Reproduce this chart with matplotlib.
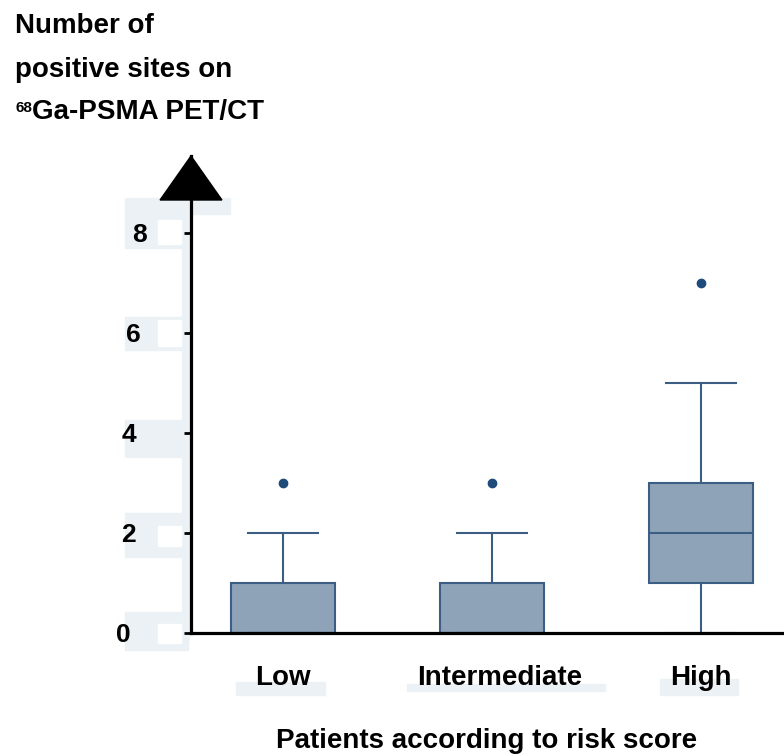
import matplotlib
matplotlib.use("Agg")
import matplotlib.pyplot as plt
from matplotlib.patches import Polygon, Rectangle
from matplotlib.transforms import ScaledTranslation

plt.rcParams['font.family'] = ['Liberation Sans', 'DejaVu Sans']

# summary values
groups = ["Low", "Intermediate", "High"]
q1 = [0, 0, 1]
med = [0, 0, 2]
q3 = [1, 1, 3]
wlo = [0, 0, 0]
whi = [2, 2, 5]
outliers = [[3], [3], [7]]
yticks = [0, 2, 4, 6, 8]

fill_c = "#8fa3b8"
edge_c = "#3d5e84"
dot_c = "#1f4b7a"
patch_c = "#ebf1f4"

stats = []
for i, g in enumerate(groups):
    stats.append(dict(label=g, q1=q1[i], med=med[i], q3=q3[i],
                      whislo=wlo[i], whishi=whi[i], fliers=outliers[i]))

W, H = 784, 756
fig = plt.figure(figsize=(W / 100, H / 100), dpi=100)

# faint label backgrounds seen in the original (pixel boxes -> figure fraction)
def bg(x0, y0, x1, y1, color=patch_c):
    fig.patches.append(Rectangle((x0 / W, 1 - y1 / H), (x1 - x0) / W, (y1 - y0) / H,
                                 transform=fig.transFigure, color=color, zorder=-5))

bg(236, 682, 325, 695)
bg(407, 684, 605, 691)
bg(660, 679, 738, 695)
bg(125, 198, 230, 214)
bg(125, 214, 183, 248)
bg(125, 317, 183, 350)
bg(125, 420, 183, 457)
bg(125, 513, 183, 557)
bg(125, 612, 188, 650)
bg(182, 214, 189, 640)
for y0, y1 in [(220, 244), (320, 346), (526, 546), (624, 643)]:
    bg(158, y0, 181, y1, "white")

ax = fig.add_axes([191 / W, 1 - 633 / H, 1 - 191 / W, (633 - 156) / H])
ax.patch.set_alpha(0)

ax.bxp(stats, positions=range(len(groups)), widths=0.5, capwidths=0.335,
       patch_artist=True,
       boxprops=dict(facecolor=fill_c, edgecolor=edge_c, linewidth=1.5),
       medianprops=dict(color=edge_c, linewidth=1.5),
       whiskerprops=dict(color=edge_c, linewidth=1.5),
       capprops=dict(color=edge_c, linewidth=1.5),
       flierprops=dict(marker="o", markersize=6, markerfacecolor=dot_c,
                       markeredgecolor=dot_c))

ax.set_xlim(-0.44, 2.397)
ax.set_ylim(0, 9.54)
ax.set_yticks(yticks)
ax.set_yticklabels([str(v) for v in yticks], fontsize=19, fontweight="bold")
ax.set_xticklabels(groups, fontsize=20, fontweight="bold")
ax.tick_params(axis="y", length=5, width=2, pad=27, direction="out")
ax.tick_params(axis="x", length=0, pad=23)

# labels in the original drift a little
y_shift = [-16, -11, -10, -6, 0]
for lab, dx in zip(ax.get_yticklabels(), y_shift):
    lab.set_transform(lab.get_transform() + ScaledTranslation(dx / 100, 0, fig.dpi_scale_trans))
x_shift = [0, 8, 0]
for lab, dx in zip(ax.get_xticklabels(), x_shift):
    lab.set_transform(lab.get_transform() + ScaledTranslation(dx / 100, 0, fig.dpi_scale_trans))

for s in ["top", "right"]:
    ax.spines[s].set_visible(False)
ax.spines["left"].set_linewidth(2.3)
ax.spines["bottom"].set_linewidth(2.3)

# arrow head on top of the y axis
tri = Polygon([[-0.44 - 0.148, 8.66], [-0.44 + 0.148, 8.66], [-0.44, 9.54]],
              closed=True, color="black", clip_on=False)
ax.add_patch(tri)

fig.text(15 / W, 1 - 33 / H, "Number of", fontsize=20, fontweight="bold", va="baseline")
fig.text(15 / W, 1 - 77 / H, "positive sites on", fontsize=20, fontweight="bold", va="baseline")
fig.text(15 / W, 1 - 112 / H, "68", fontsize=11, fontweight="bold", va="baseline")
fig.text(32 / W, 1 - 119 / H, "Ga-PSMA PET/CT", fontsize=20, fontweight="bold", va="baseline")

fig.text(487 / W, 1 - 748 / H, "Patients according to risk score", fontsize=20,
         fontweight="bold", ha="center", va="baseline")

fig.savefig("out.png", dpi=100)
